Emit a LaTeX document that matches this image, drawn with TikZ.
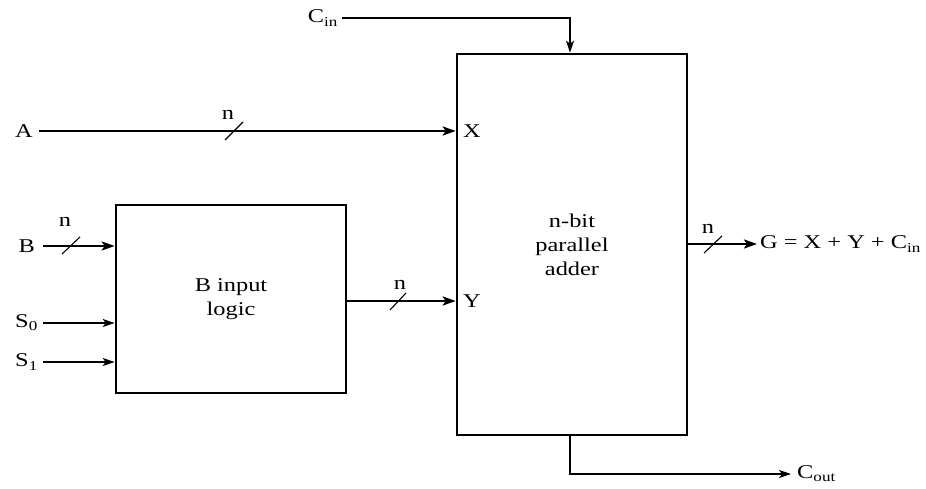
\documentclass[tikz,border=0pt]{standalone}
\usepackage{fontspec}
\setmainfont[FakeStretch=1.25]{Liberation Serif}
\usetikzlibrary{arrows.meta,calc}
\begin{document}
\begin{tikzpicture}[x=1pt,y=-1pt,
  every node/.style={font=\fontsize{19.5}{24}\selectfont, inner sep=0pt},
  box/.style={draw, line width=2.6pt, inner sep=0pt, align=center},
  bus/.style={line width=2.8pt, -{Stealth[length=13pt,width=9pt,inset=3pt]}},
  wire/.style={line width=1.3pt, -{Stealth[length=12pt,width=8pt,inset=3pt]}},
  slash/.style={line width=1.1pt}]
\useasboundingbox (0,0) rectangle (926,489);
% boxes
\node[box, minimum width=230pt, minimum height=381pt] (adder) at (572,244.5)
  {n-bit\\parallel\\adder};
\node[box, minimum width=230pt, minimum height=188pt] (blog) at (231,299)
  {B input\\logic};
% labels
\node[anchor=east] (cin) at (338,18) {C\textsubscript{in}};
\node[anchor=east] (A) at (33,131) {A};
\node[anchor=east] (B) at (35,246) {B};
\node[anchor=east] (S0) at (38,323) {S\textsubscript{0}};
\node[anchor=east] (S1) at (38,362) {S\textsubscript{1}};
\node[anchor=west] (X) at (463,131) {X};
\node[anchor=west] (Y) at (463,301) {Y};
\node[anchor=west] (G) at (760,244) {G = X + Y + C\textsubscript{in}};
\node[anchor=west] (cout) at (797,474) {C\textsubscript{out}};
\coordinate (cbend) at (570,474);
% connectors
\draw[wire] ([xshift=4pt]cin.east) -| ([xshift=-2pt]adder.north);
\draw[bus] ([xshift=6pt]A.east) -- (adder.west |- A);
\draw[bus] ([xshift=8pt]B.east) -- (blog.west |- B);
\draw[wire] ([xshift=5pt]S0.east) -- (blog.west |- S0);
\draw[wire] ([xshift=5pt]S1.east) -- (blog.west |- S1);
\draw[bus] (blog.east |- Y) -- (adder.west |- Y);
\draw[bus] (adder.east |- G) -- ([xshift=-3pt]G.west);
\draw[wire] ([xshift=-2pt]adder.south) -- (cbend) -- ([xshift=-6pt]cout.west);
% bus slashes
\draw[slash] (225,140) -- (243,122); \node (nA) at (228,115) {n};
\draw[slash] (62,254) -- (80,237); \node (nB) at (65,222) {n};
\draw[slash] (390,310) -- (406,293); \node (nY) at (400,285) {n};
\draw[slash] (704,253) -- (722,236); \node (nG) at (708,229) {n};
\end{tikzpicture}
\end{document}
